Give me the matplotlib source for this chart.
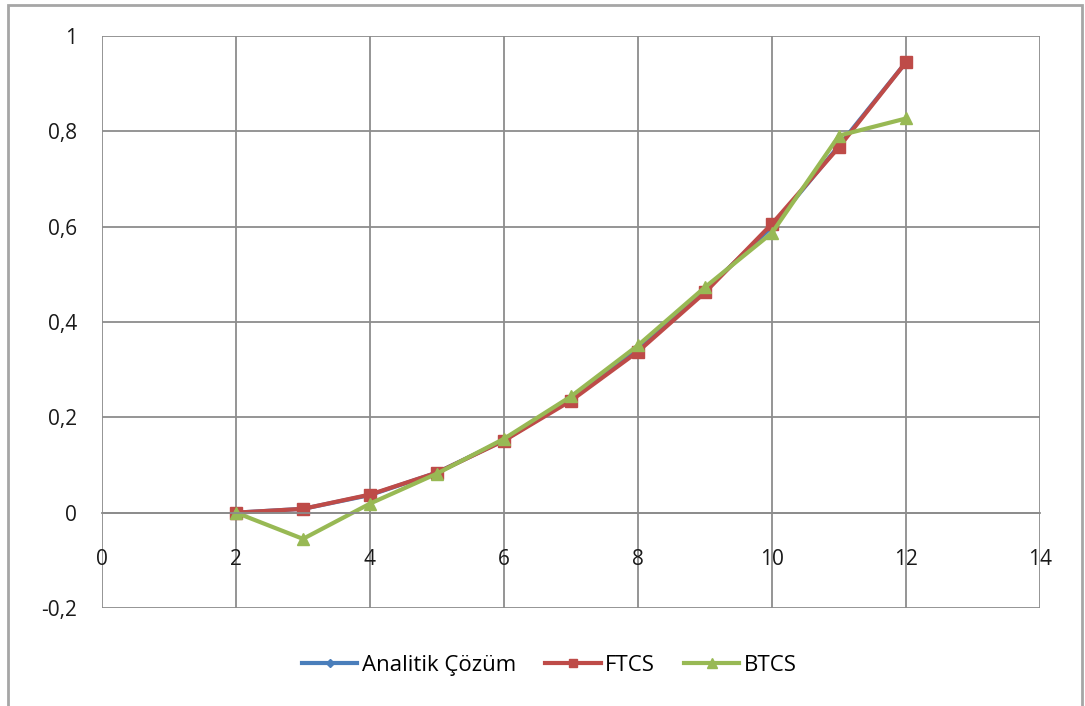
import numpy as np
import matplotlib
matplotlib.use("Agg")
import matplotlib.pyplot as plt
from matplotlib.patches import Rectangle
from matplotlib.ticker import FuncFormatter

plt.rcParams['font.family'] = ['Open Sans', 'DejaVu Sans']

# ── Data ──────────────────────────────────────────────────────────────────────
x_nodes  = [2, 3, 4, 5, 6, 7, 8, 9, 10, 11, 12]
analitik = [0.0, 0.008, 0.037, 0.084, 0.152, 0.238, 0.342, 0.466, 0.600, 0.770, 0.945]
ftcs     = [0.0, 0.008, 0.038, 0.084, 0.151, 0.235, 0.338, 0.462, 0.606, 0.767, 0.945]
btcs     = [0.0, -0.055, 0.019, 0.082, 0.155, 0.244, 0.351, 0.473, 0.587, 0.791, 0.827]

x_ticks = np.arange(0, 15, 2)
y_ticks = np.arange(-0.2, 1.01, 0.2)

blue, red, green = '#4A7EBB', '#BE4B48', '#98B954'
grid_c = '#8C8C8C'

# ── Figure ────────────────────────────────────────────────────────────────────
fig = plt.figure(figsize=(10.85, 7.06), dpi=100)
fig.patches.append(Rectangle((8 / 1085, -0.05), 1074 / 1085, 1 - 5 / 706 + 0.05,
                             transform=fig.transFigure, fill=False,
                             edgecolor='#A6A6A6', linewidth=2))
ax = fig.add_axes([102 / 1085, 1 - 608 / 706, 938 / 1085, 572 / 706])

ax.plot(x_nodes, analitik, color=blue, lw=3, marker='D', ms=5, label='Analitik Çözüm')
ax.plot(x_nodes, ftcs, color=red, lw=3, marker='s', ms=8, label='FTCS')
ax.plot(x_nodes, btcs, color=green, lw=3, marker='^', ms=9, label='BTCS')

ax.set_xlim(0, 14)
ax.set_ylim(-0.2, 1.0)
ax.set_xticks(x_ticks)
ax.set_yticks(y_ticks)
comma = FuncFormatter(lambda v, p: f'{v:g}'.replace('.', ',') if abs(v) > 1e-9 else '0')
ax.xaxis.set_major_formatter(comma)
ax.yaxis.set_major_formatter(comma)

ax.grid(True, color=grid_c, lw=1.3)
ax.set_axisbelow(True)
for s in ['top', 'right', 'left']:
    ax.spines[s].set_visible(False)
ax.spines['bottom'].set_position(('data', 0))
ax.spines['bottom'].set_color(grid_c)
ax.spines['bottom'].set_linewidth(1.3)
ax.tick_params(axis='x', length=0, pad=26, labelsize=15, colors='#1A1A1A')
ax.tick_params(axis='y', length=0, pad=18, labelsize=15, colors='#1A1A1A')

ax.legend(loc='center', bbox_to_anchor=(0.477, -0.1), ncol=3, frameon=False,
          fontsize=16, handlelength=2.5, columnspacing=1.3, handletextpad=0.2,
          markerscale=0.8)

fig.savefig('out.png', dpi=100)
